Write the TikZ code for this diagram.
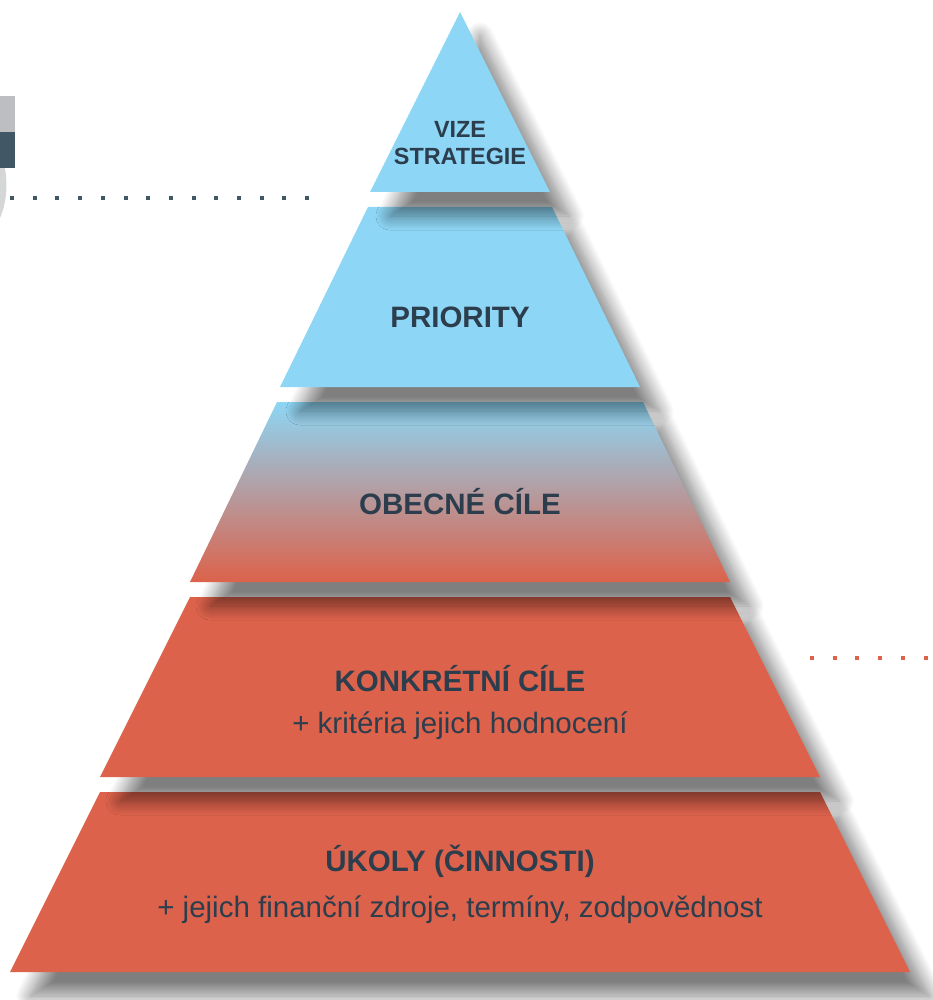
\documentclass[tikz,border=0pt]{standalone}
\usepackage{fontspec}
\setmainfont{Liberation Sans}
\usepackage{xcolor}
\usetikzlibrary{shadows.blur,positioning}

\definecolor{skyblue}{RGB}{141,214,245}
\definecolor{brick}{RGB}{220,98,75}
\definecolor{slate}{RGB}{44,62,77}
\definecolor{boxgray}{RGB}{188,190,193}
\definecolor{boxslate}{RGB}{66,87,102}
\definecolor{ringgray}{RGB}{213,214,216}

\tikzset{
  band/.style={blur shadow={shadow xshift=20pt, shadow yshift=-24pt, shadow blur radius=14pt, shadow blur steps=14, shadow opacity=50}},
  title/.style={font=\bfseries\fontsize{29.5}{34}\selectfont, text=slate, anchor=base, inner sep=0pt},
  sub/.style={font=\fontsize{29.5}{34}\selectfont, text=slate, anchor=base, inner sep=0pt},
  dots/.style={line width=4pt, dash pattern=on 4pt off 18.7pt},
}

\begin{document}
\begin{tikzpicture}[x=1pt, y=-1pt]
\useasboundingbox (0,0) rectangle (933,1000);

% left marker
\fill[ringgray] (-80.5,185) circle (87);
\fill[boxgray] (0,96) rectangle (15,132);
\fill[boxslate] (0,132) rectangle (15,168);
\draw[boxslate, dots] (10,198) -- (312,198);
\draw[brick, dots] (810,658) -- (940,658);

% pyramid bands, bottom first
\fill[brick, band] (10,972) -- (910,972) -- (820,792) -- (100,792) -- cycle;
\fill[brick, band] (100,777) -- (820,777) -- (730,597) -- (190,597) -- cycle;
\shade[top color=skyblue, bottom color=brick, band] (190,582) -- (730,582) -- (643,402) -- (277,402) -- cycle;
\fill[skyblue, band] (280,387) -- (640,387) -- (552,207) -- (368,207) -- cycle;
\fill[skyblue, band] (370,192) -- (550,192) -- (460,12) -- cycle;

% labels
\node[title, font=\bfseries\fontsize{23.4}{27}\selectfont, align=center, anchor=center] (vize) at (460,143) {VIZE\\STRATEGIE};
\node[title] (priority) at (460,327) {PRIORITY};
\node[title] (obecne) at (460,514) {OBECNÉ CÍLE};
\node[title] (konkretni) at (460,691) {KONKRÉTNÍ CÍLE};
\node[sub] (kriteria) at ([yshift=-42pt]konkretni.base) {+ kritéria jejich hodnocení};
\node[title] (ukoly) at (460,871) {ÚKOLY (ČINNOSTI)};
\node[sub] (zdroje) at ([yshift=-46pt]ukoly.base) {+ jejich finanční zdroje, termíny, zodpovědnost};
\end{tikzpicture}
\end{document}
